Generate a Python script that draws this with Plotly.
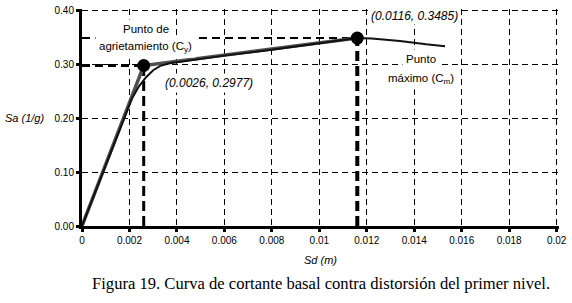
import plotly.graph_objects as go

# ---- data ----
sd_curve = [0, 0.0010, 0.0017, 0.0021, 0.0024, 0.0027, 0.0030, 0.0033, 0.0037, 0.0045,
            0.0060, 0.0080, 0.0100, 0.0116, 0.0122, 0.0134, 0.0145, 0.0153]
sa_curve = [0, 0.114, 0.194, 0.236, 0.259, 0.276, 0.289, 0.297, 0.302, 0.307,
            0.316, 0.327, 0.339, 0.3485, 0.3478, 0.343, 0.337, 0.3335]

sd_bilinear = [0, 0.0026, 0.0116]
sa_bilinear = [0, 0.2977, 0.3485]

cy_point = (0.0026, 0.2977)   # punto de agrietamiento
cm_point = (0.0116, 0.3485)   # punto máximo

x_tick_vals = [0, 0.002, 0.004, 0.006, 0.008, 0.010, 0.012, 0.014, 0.016, 0.018, 0.020]
x_tick_text = ["0", "0.002", "0.004", "0.006", "0.008", "0.01", "0.012", "0.014",
               "0.016", "0.018", "0.02"]
y_tick_vals = [0, 0.1, 0.2, 0.3, 0.4]
y_tick_text = ["0.00", "0.10", "0.20", "0.30", "0.40"]

SANS = "Liberation Sans, Arial, sans-serif"
SERIF = "Liberation Serif, Times New Roman, serif"
GRID_DASH = "6px,4px"

fig = go.Figure()

# dashed guide lines to the characteristic points
fig.add_trace(go.Scatter(x=[0, cy_point[0]], y=[cy_point[1], cy_point[1]], mode="lines",
                         line=dict(color="black", width=3, dash="8px,5px"), hoverinfo="skip"))
fig.add_trace(go.Scatter(x=[cy_point[0], cy_point[0]], y=[0, cy_point[1]], mode="lines",
                         line=dict(color="black", width=3, dash="10px,5px"), hoverinfo="skip"))
fig.add_trace(go.Scatter(x=[0, cm_point[0]], y=[cm_point[1], cm_point[1]], mode="lines",
                         line=dict(color="black", width=2, dash="8px,5px"), hoverinfo="skip"))
fig.add_trace(go.Scatter(x=[cm_point[0], cm_point[0]], y=[0, cm_point[1]], mode="lines",
                         line=dict(color="black", width=4, dash="10px,5px"), hoverinfo="skip"))

# bilinear idealisation
fig.add_trace(go.Scatter(x=sd_bilinear, y=sa_bilinear, mode="lines",
                         line=dict(color="#505050", width=3.5)))
# capacity curve
fig.add_trace(go.Scatter(x=sd_curve, y=sa_curve, mode="lines",
                         line=dict(color="#111111", width=2)))
# points
fig.add_trace(go.Scatter(x=[cy_point[0], cm_point[0]], y=[cy_point[1], cm_point[1]],
                         mode="markers", marker=dict(color="black", size=13)))

ann_font = dict(family=SANS, size=11.5, color="black")
coord_font = dict(family=SANS, size=12, color="black")
annotations = [
    dict(x=0.00268, y=0.365, text="Punto de", showarrow=False, font=ann_font,
         bgcolor="white", borderpad=3, xanchor="center"),
    dict(x=0.00268, y=0.3315, text="agrietamiento (C<sub>y</sub>)", showarrow=False,
         font=ann_font, bgcolor="white", borderpad=3, xanchor="center"),
    dict(x=0.00535, y=0.265, text="<i>(0.0026, 0.2977)</i>", showarrow=False,
         font=coord_font, bgcolor="white", borderpad=2, xanchor="center"),
    dict(x=0.01402, y=0.390, text="<i>(0.0116, 0.3485)</i>", showarrow=False,
         font=coord_font, bgcolor="white", borderpad=1, xanchor="center"),
    dict(x=0.0143, y=0.3095, text="Punto", showarrow=False, font=ann_font,
         bgcolor="white", borderpad=3, xanchor="center"),
    dict(x=0.0143, y=0.2735, text="máximo (C<sub>m</sub>)", showarrow=False, font=ann_font,
         bgcolor="white", borderpad=3, xanchor="center"),
    # axis titles
    dict(xref="paper", yref="paper", x=-0.12, y=0.5, text="<i>Sa (1/g)</i>",
         showarrow=False, xanchor="center", yanchor="middle",
         font=dict(family=SANS, size=11, color="black")),
    dict(xref="paper", yref="paper", x=0.5, y=-0.155, text="<i>Sd (m)</i>",
         showarrow=False, xanchor="center", yanchor="middle",
         font=dict(family=SANS, size=11, color="black")),
    # caption
    dict(xref="paper", yref="paper", x=0.5, y=-0.265,
         text="Figura 19. Curva de cortante basal contra distorsión del primer nivel.",
         showarrow=False, xanchor="center", yanchor="middle",
         font=dict(family=SERIF, size=16.6, color="black")),
]

fig.update_layout(
    width=572, height=303,
    margin=dict(l=82, r=13, t=9, b=77, autoexpand=False),
    paper_bgcolor="white", plot_bgcolor="white",
    showlegend=False,
    annotations=annotations,
)

# ranges are opened a hair past the last tick so the dashed grid lines at
# 0.02 and 0.40 are drawn (they frame the top and right of the plot)
fig.update_xaxes(
    range=[0, 0.0201], tickvals=x_tick_vals, ticktext=x_tick_text,
    showgrid=True, gridcolor="black", gridwidth=1, griddash=GRID_DASH,
    zeroline=False, showline=True, linecolor="black", linewidth=3,
    ticks="outside", ticklen=3, tickwidth=3, tickcolor="black", automargin=False,
    tickfont=dict(family=SANS, size=10, color="black"),
)
fig.update_yaxes(
    range=[0, 0.4025], tickvals=y_tick_vals, ticktext=y_tick_text,
    showgrid=True, gridcolor="black", gridwidth=1, griddash=GRID_DASH,
    zeroline=False, showline=True, linecolor="black", linewidth=3,
    ticks="outside", ticklen=3, tickwidth=3, tickcolor="black", automargin=False,
    tickfont=dict(family=SANS, size=10, color="black"),
)

fig.write_html("out.html", config={"displayModeBar": False},
               post_script="document.body.style.margin='0';")
